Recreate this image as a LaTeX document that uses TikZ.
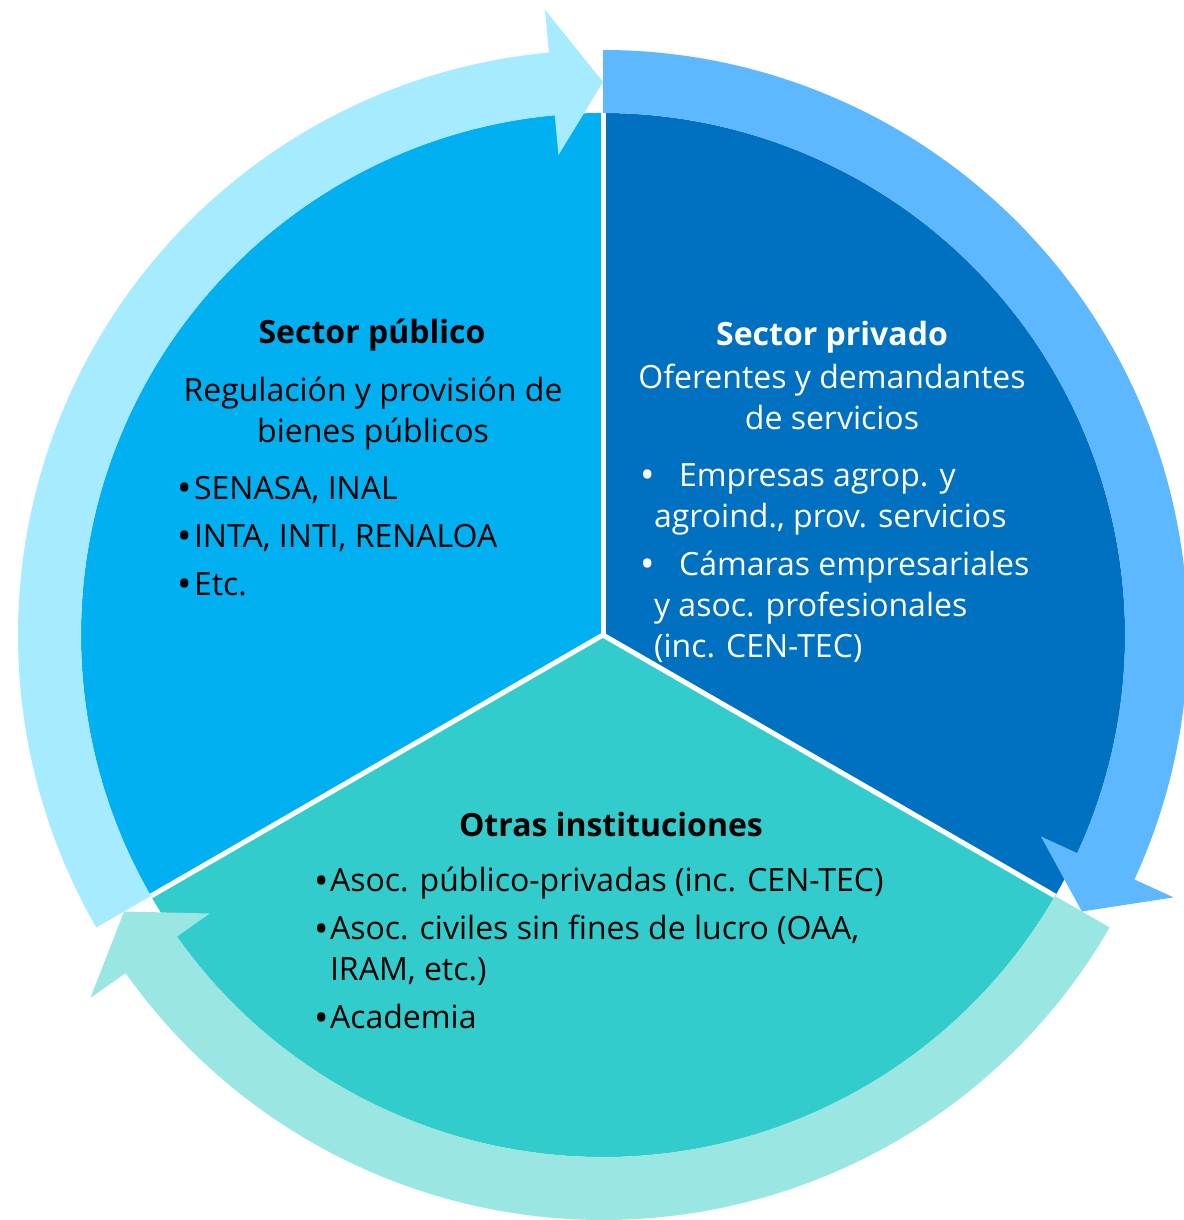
\documentclass[tikz,border=0pt]{standalone}
\usepackage{fontspec}
\setmainfont{Open Sans}

\definecolor{pubfill}{HTML}{00B0F0}
\definecolor{privfill}{HTML}{0070C0}
\definecolor{othfill}{HTML}{33CCCC}
\definecolor{pubring}{HTML}{A6EBFF}
\definecolor{privring}{HTML}{5EB8FF}
\definecolor{othring}{HTML}{99E6E3}

\newcommand{\pieradius}{522}
\newcommand{\ringout}{585}
\newcommand{\ringmid}{553}
\newcommand{\headin}{482}
\newcommand{\headout}{628}
\newcommand{\headang}{5.3}

% curved cycle arrow: colour, start angle, tip angle (clockwise)
\newcommand{\cyclearrow}[3]{%
  \fill[#1] (#2:\pieradius) arc[start angle=#2, end angle=#3+\headang, radius=\pieradius]
    -- ({#3+\headang}:\headin) -- (#3:\ringmid) -- ({#3+\headang}:\headout)
    -- ({#3+\headang}:\ringout) arc[start angle=#3+\headang, end angle=#2, radius=\ringout]
    -- cycle;}

\newcommand{\bul}[1][8.5pt]{\makebox[#1][l]{\raisebox{-1.3pt}{\scalebox{1.2}{•}}}}

\tikzset{
  sectortitle/.style={font=\fontsize{16}{19}\selectfont\bfseries},
  sectortext/.style={font=\fontsize{16}{20.5}\selectfont, align=center},
  sectorlist/.style={font=\fontsize{16}{20.5}\selectfont, align=left, anchor=west},
  divider/.style={white, line width=2.5pt}
}

\begin{document}
\begin{tikzpicture}[x=0.5pt, y=0.5pt]
  \useasboundingbox (-603,-585) rectangle (580,635);

  % pie sectors
  \fill[pubfill] (0,0) -- (90:\pieradius) arc[start angle=90, end angle=210, radius=\pieradius] -- cycle;
  \fill[privfill] (0,0) -- (-30:\pieradius) arc[start angle=-30, end angle=90, radius=\pieradius] -- cycle;
  \fill[othfill] (0,0) -- (210:\pieradius) arc[start angle=210, end angle=330, radius=\pieradius] -- cycle;
  \foreach \a in {90,210,330}
    \draw[divider] (0,0) -- (\a:\pieradius);

  % cycle arrows
  \cyclearrow{othring}{-30}{-150}
  \cyclearrow{privring}{90}{-30}
  \cyclearrow{pubring}{210}{90}

  % Sector publico
  \node[sectortitle] (pubtitle) at (-231,300) {Sector público};
  \node[sectortext] (pubtext) at (-230,221) {Regulación y provisión de\\bienes públicos};
  \node[sectorlist] (publist) at (-433,98)
    {\bul SENASA, INAL\\[3.5pt]\bul INTA, INTI, RENALOA\\[3.5pt]\bul Etc.};

  % Sector privado
  \node[sectortitle, white] (privtitle) at (229,298) {Sector privado};
  \node[sectortext, white] (privtext) at (229,238) {Oferentes y demandantes\\de servicios};
  \node[sectorlist, white] (privlist) at (30,72)
    {\bul[19.5pt]Empresas agrop. y\\\hspace*{7pt}agroind., prov. servicios\\[3.5pt]
     \bul[19.5pt]Cámaras empresariales\\\hspace*{7pt}y asoc. profesionales\\\hspace*{7pt}(inc. CEN-TEC)};

  % Otras instituciones
  \node[sectortitle] (othtitle) at (8,-189) {Otras instituciones};
  \node[sectorlist] (othlist) at (-296,-314)
    {\bul[8pt]Asoc. público-privadas (inc. CEN-TEC)\\[3.5pt]
     \bul[8pt]Asoc. civiles sin fines de lucro (OAA,\\\hspace*{8pt}IRAM, etc.)\\[3.5pt]
     \bul[8pt]Academia};
\end{tikzpicture}
\end{document}
